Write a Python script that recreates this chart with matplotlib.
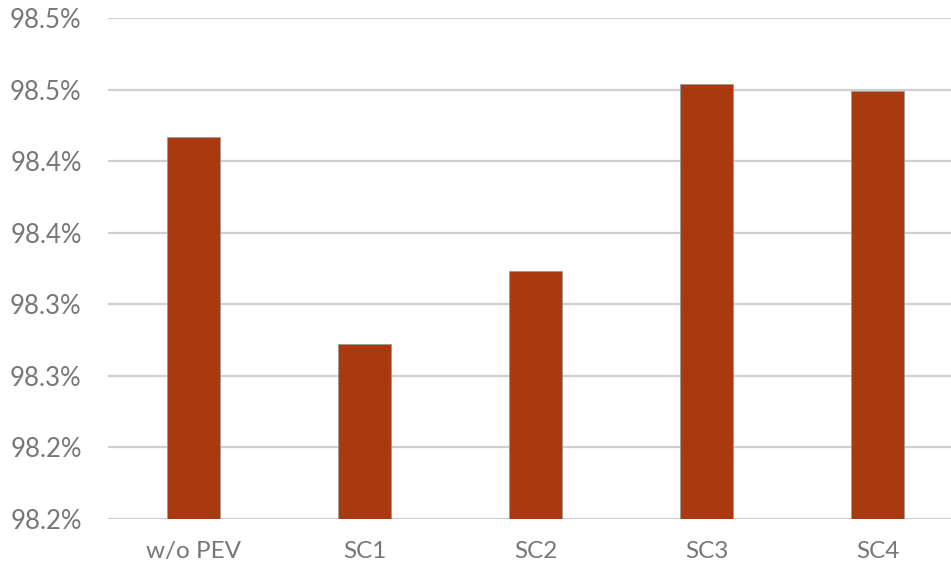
import matplotlib.pyplot as plt
from matplotlib.ticker import FuncFormatter, MultipleLocator

plt.rcParams['font.family'] = ['Lato', 'DejaVu Sans']

# efficiency per scenario (%)
scenarios = ['w/o PEV', 'SC1', 'SC2', 'SC3', 'SC4']
efficiency = [98.417, 98.272, 98.323, 98.454, 98.449]

bar_color = '#A93A0F'
text_gray = '#777777'

fig = plt.figure(figsize=(9.51, 5.75), dpi=100)
ax = fig.add_axes([0.1136, 0.0974, 0.899, 0.8713])

x = range(len(scenarios))
ax.bar(x, efficiency, width=0.31, color=bar_color, edgecolor='#9A9A9A',
       linewidth=0.6, zorder=3, bottom=0)

ax.set_ylim(98.15, 98.5)
ax.set_xlim(-0.5, len(scenarios) - 0.5)
ax.yaxis.set_major_locator(MultipleLocator(0.05))
# Excel-style one-decimal labels (round half up)
ax.yaxis.set_major_formatter(FuncFormatter(lambda v, p: f'{v + 1e-9:.1f}%'))

ax.set_xticks(list(x))
ax.set_xticklabels(scenarios)
ax.grid(axis='y', color='#D0D0D0', linewidth=1.6, zorder=0)
ax.set_axisbelow(True)

for side in ['top', 'right', 'left', 'bottom']:
    ax.spines[side].set_visible(False)

ax.tick_params(axis='both', length=0, colors=text_gray)
ax.tick_params(axis='y', pad=19, labelsize=18.5)
ax.tick_params(axis='x', pad=16, labelsize=17.5)

fig.savefig('out.png', dpi=100)
